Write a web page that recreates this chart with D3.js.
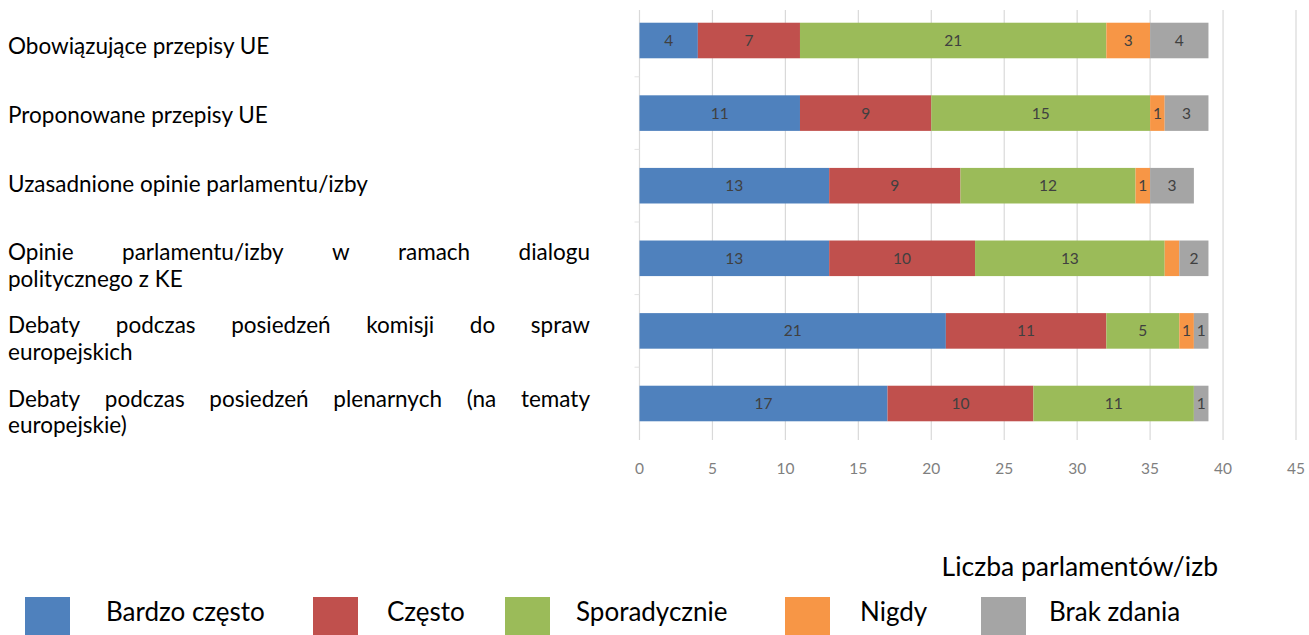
<!DOCTYPE html>
<html>
<head>
<meta charset="utf-8">
<script src="https://cdn.jsdelivr.net/npm/d3@7"></script>
<style>
  html, body { margin: 0; padding: 0; background: #ffffff; }
  svg { display: block; font-family: Lato, "Open Sans", sans-serif; }
</style>
</head>
<body>
<svg id="chart" width="1309" height="635"></svg>
<script>
// ---- data ----
const categories = [
  "Obowiązujące przepisy UE",
  "Proponowane przepisy UE",
  "Uzasadnione opinie parlamentu/izby",
  "Opinie parlamentu/izby w ramach dialogu\npolitycznego z KE",
  "Debaty podczas posiedzeń komisji do spraw\neuropejskich",
  "Debaty podczas posiedzeń plenarnych (na tematy\neuropejskie)"
];
const seriesNames = ["Bardzo często", "Często", "Sporadycznie", "Nigdy", "Brak zdania"];
const bardzoCzesto = [4, 11, 13, 13, 21, 17];
const czesto       = [7, 9, 9, 10, 11, 10];
const sporadycznie = [21, 15, 12, 13, 5, 11];
const nigdy        = [3, 1, 1, 1, 1, 0];
const brakZdania   = [4, 3, 3, 2, 1, 1];
// labels not shown in the original (category index, series index)
const hiddenLabels = [[3, 3]];
const xTicks = [0, 5, 10, 15, 20, 25, 30, 35, 40, 45];
const xAxisTitle = "Liczba parlamentów/izb";
const colors = ["#4F81BD", "#C0504D", "#9BBB59", "#F79646", "#A5A5A5"];

// ---- layout ----
const svg = d3.select("#chart");
const plot = { left: 639.5, right: 1296, top: 4.2, bottom: 439.8, gridTop: 10, gridBottom: 440 };

const x = d3.scaleLinear().domain([0, 45]).range([plot.left, plot.right]);
const y = d3.scaleBand().domain(d3.range(categories.length))
  .range([plot.top, plot.bottom]).paddingInner(0.51).paddingOuter(0.255);

const seriesValues = [bardzoCzesto, czesto, sporadycznie, nigdy, brakZdania];
const rows = categories.map((c, i) => {
  const r = { idx: i };
  seriesNames.forEach((s, k) => r[s] = seriesValues[k][i]);
  return r;
});
const stack = d3.stack().keys(seriesNames)(rows);

// gridlines
svg.append("g").selectAll("line").data(xTicks).join("line")
  .attr("x1", d => x(d)).attr("x2", d => x(d))
  .attr("y1", plot.gridTop).attr("y2", plot.gridBottom)
  .attr("stroke", "#d9d9d9").attr("stroke-width", 1.2);

// small category tick marks on the vertical axis
const bounds = d3.range(categories.length + 1).map(i => plot.top + i * y.step());
svg.append("g").selectAll("line").data(bounds.slice(1, -1)).join("line")
  .attr("x1", plot.left - 5).attr("x2", plot.left)
  .attr("y1", d => d).attr("y2", d => d)
  .attr("stroke", "#e3e3e3").attr("stroke-width", 1);

// bars
const layer = svg.append("g").selectAll("g").data(stack).join("g")
  .attr("fill", (d, k) => colors[k]);
layer.selectAll("rect").data(d => d).join("rect")
  .attr("x", d => x(d[0]))
  .attr("width", d => Math.max(0, x(d[1]) - x(d[0])))
  .attr("y", (d, i) => y(i))
  .attr("height", y.bandwidth());

// data labels
const isHidden = (i, k) => hiddenLabels.some(h => h[0] === i && h[1] === k);
stack.forEach((s, k) => {
  svg.append("g").selectAll("text").data(s).join("text")
    .filter((d, i) => (d[1] - d[0]) > 0 && !isHidden(i, k))
    .attr("x", d => (x(d[0]) + x(d[1])) / 2)
    .attr("y", d => y(d.data.idx) + y.bandwidth() / 2)
    .attr("dy", "0.36em")
    .attr("text-anchor", "middle")
    .attr("font-size", 15.5)
    .attr("fill", "#404040")
    .text(d => d[1] - d[0]);
});

// x axis tick labels
svg.append("g").selectAll("text").data(xTicks).join("text")
  .attr("x", d => x(d)).attr("y", 468).attr("dy", "0.36em")
  .attr("text-anchor", "middle").attr("font-size", 15.5).attr("fill", "#7f7f7f")
  .text(d => d);

// x axis title
svg.append("text").attr("x", 1218).attr("y", 566).attr("dy", "0.36em")
  .attr("text-anchor", "end").attr("font-size", 26.5).attr("fill", "#000")
  .text(xAxisTitle);

// category labels: a justified text block, paragraph after paragraph
const labelLeft = 8, labelRight = 590, lineH = 26.5, paraStep = 68.7, extraPerLine = 4.5;
const catG = svg.append("g").attr("font-size", 22.5).attr("fill", "#000");
let paraY = 46;
categories.forEach((c, i) => {
  const lines = c.split("\n");
  lines.forEach((ln, j) => {
    const ly = paraY + j * lineH;
    const justify = j < lines.length - 1;
    if (!justify) {
      catG.append("text").attr("x", labelLeft).attr("y", ly).attr("dy", "0.36em").text(ln);
    } else {
      const words = ln.split(" ");
      const temp = words.map(w => catG.append("text").attr("y", ly).attr("dy", "0.36em").text(w));
      const widths = temp.map(t => t.node().getComputedTextLength());
      const total = d3.sum(widths);
      const gap = (labelRight - labelLeft - total) / (words.length - 1);
      let cx = labelLeft;
      temp.forEach((t, k) => { t.attr("x", cx); cx += widths[k] + gap; });
    }
  });
  paraY += paraStep + extraPerLine * (lines.length - 1);
});

// legend
const legendSwatchX = [25, 313, 505, 785, 981];
const legendTextX = [106, 387, 576, 860, 1049];
const lg = svg.append("g");
seriesNames.forEach((s, k) => {
  lg.append("rect").attr("x", legendSwatchX[k]).attr("y", 597).attr("width", 45).attr("height", 40)
    .attr("fill", colors[k]);
  lg.append("text").attr("x", legendTextX[k]).attr("y", 612).attr("dy", "0.36em")
    .attr("font-size", 26).attr("fill", "#000").text(s);
});
</script>
</body>
</html>
